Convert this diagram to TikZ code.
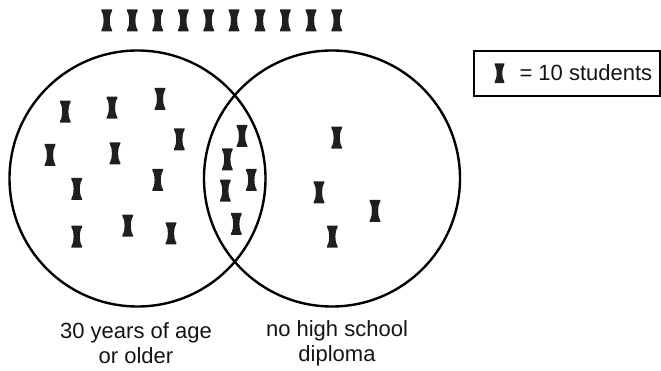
\documentclass[tikz,border=0pt]{standalone}
\usepackage{fontspec}
\setmainfont{Liberation Sans}
\begin{document}
\begin{tikzpicture}[x=1pt,y=-1pt,
  ring/.style={draw=black,line width=2.4pt,circle,minimum size=256pt,inner sep=0pt},
  lab/.style={font=\fontsize{22}{25}\selectfont,text=black!92,align=center,inner sep=0pt},
  legbox/.style={draw=black,line width=2pt},
  hg/.pic={\fill[black!88] (-5.3,-11) -- (5.3,-11) -- (5.3,-9.5)
      .. controls (3.4,-6) and (3.1,-3) .. (3.1,0)
      .. controls (3.1,3) and (3.4,6) .. (5.3,9.5) -- (5.3,11) -- (-5.3,11) -- (-5.3,9.5)
      .. controls (-3.4,6) and (-3.1,3) .. (-3.1,0)
      .. controls (-3.1,-3) and (-3.4,-6) .. (-5.3,-9.5) -- cycle;}
  ]
\useasboundingbox (0,0) rectangle (661,371);
% circles
\node[ring] (L) at (137.5,178.5) {};
\node[ring] (R) at (332,178.5) {};
% top row of icons
\foreach \x in {106.7,132.3,157.7,183.3,208.7,234,260,285.3,311,336.7}
  \pic at (\x,20.5) {hg};
% left circle icons
\foreach \p in {(65.3,111.7),(112,107.7),(160,99),(179.3,139.3),(50,155),(115,153.3),(76.7,189),(157.7,180),(76.7,236.7),(127.7,225.7),(171,233.3)}
  \pic at \p {hg};
% intersection icons
\foreach \p in {(242,136),(227.3,159.3),(251.3,180),(225.3,190.7),(236.3,224)}
  \pic at \p {hg};
% right circle icons
\foreach \p in {(336.7,137.7),(319,192.3),(375,211),(332.3,236.7)}
  \pic at \p {hg};
% labels
\node[lab,anchor=base] (lt1) at (136,338.3) {30 years of age};
\node[lab,anchor=base] (lt2) at (136,363.3) {or older};
\node[lab,anchor=base] (rt1) at (337,336.7) {no high school};
\node[lab,anchor=base] (rt2) at (337,361.7) {diploma};
% legend
\draw[legbox] (474,50.7) rectangle (660,96);
\pic[scale=0.9] at (499.5,73.3) {hg};
\node[lab,anchor=base west] (leg) at (519.3,81) {= 10 students};
\end{tikzpicture}
\end{document}
